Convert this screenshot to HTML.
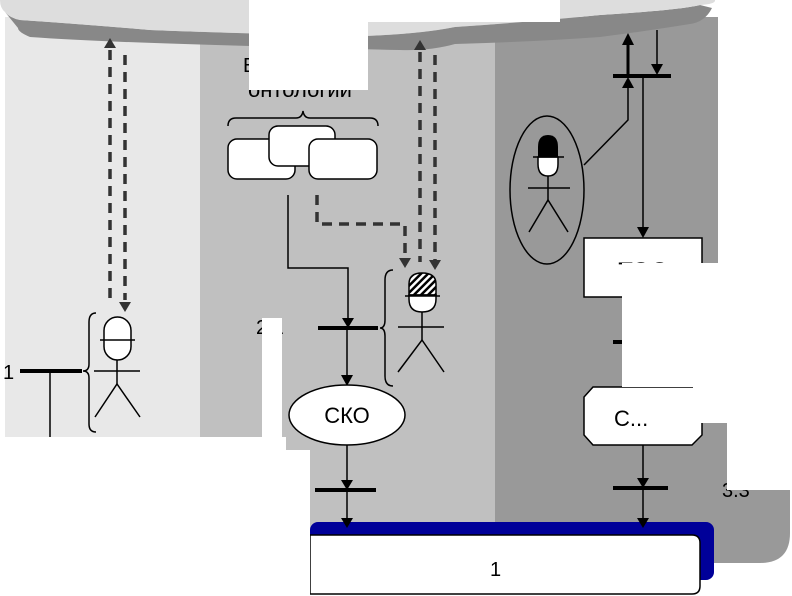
<!DOCTYPE html>
<html><head><meta charset="utf-8"><style>html,body{margin:0;padding:0;background:#fff}svg{display:block}</style></head>
<body>
<svg width="792" height="596" viewBox="0 0 792 596" xmlns="http://www.w3.org/2000/svg" font-family="Liberation Sans, sans-serif">
<defs>
<pattern id="h" width="5" height="5" patternUnits="userSpaceOnUse" patternTransform="rotate(45)"><rect width="5" height="5" fill="#fff"/><rect width="2.5" height="5" fill="#000"/></pattern>
</defs>
<!-- panels -->
<rect x="5" y="17" width="195" height="420" fill="#e8e8e8"/>
<rect x="200" y="17" width="295" height="420" fill="#c0c0c0"/>
<rect x="280" y="420" width="215" height="110" fill="#c0c0c0"/>
<path d="M495,17 H790 V533 Q790,563 760,563 H495 Z" fill="#999"/>
<rect x="718" y="0" width="74" height="263" fill="#fff"/>
<!-- cloud -->
<path d="M5,12 Q10,18 20,20 Q80,24 150,30 Q250,34 365,36 Q420,34 455,27 Q530,22 600,15 Q680,10 700,5 L712,8 Q705,22 690,24 Q640,32 600,37 Q530,42 455,44 Q430,51 400,50 Q300,48 250,46 Q100,42 30,37 Q18,32 18,28 Z" fill="#888"/>
<path d="M0,0 H715 Q716,4 700,5 Q680,10 600,15 Q530,22 455,27 Q420,34 365,36 Q250,34 150,30 Q80,24 20,20 Q10,18 5,12 Q0,8 0,0 Z" fill="#ddd"/>
<text x="243" y="72" font-size="20">В</text>
<text x="300" y="97" font-size="22" text-anchor="middle">онтологии</text>
<rect x="250" y="0" width="310" height="22" fill="#fff"/>
<rect x="249" y="0" width="119" height="90" fill="#fff"/>
<!-- blue bar -->
<rect x="310" y="522" width="404" height="58" rx="8" fill="#000099"/>
<path d="M310,535 H692 Q700,535 700,543 V586 Q700,594 692,594 H310 Z" fill="#fff" stroke="#000" stroke-width="1.5"/>
<text x="490" y="576" font-size="20">1</text>
<rect x="286" y="450" width="24" height="146" fill="#fff"/>
<rect x="0" y="437" width="286" height="159" fill="#fff"/>
<!-- dashed -->
<g stroke="#333" stroke-width="3.5" stroke-dasharray="10,7" fill="none">
<line x1="110" y1="50" x2="110" y2="300"/><line x1="125" y1="55" x2="125" y2="300"/>
<line x1="420" y1="52" x2="420" y2="262"/><line x1="435" y1="55" x2="435" y2="262"/>
<path d="M317,195 V224 H405 V262"/>
</g>
<g fill="#333"><path d="M104,48 L110,38 L116,48 Z"/><path d="M119,302 L125,312 L131,302 Z"/>
<path d="M414,50 L420,40 L426,50 Z"/><path d="M429,260 L435,270 L441,260 Z"/><path d="M399,258 L405,268 L411,258 Z"/></g>
<!-- left -->
<text x="3" y="379" font-size="20">1</text>
<line x1="20" y1="371" x2="82" y2="371" stroke="#000" stroke-width="4"/>
<line x1="50" y1="371" x2="50" y2="437" stroke="#000" stroke-width="1.5"/>
<path d="M96,313 Q89,313 89,322 V364 Q89,371 83,371 Q89,371 89,378 V424 Q89,432 96,432" stroke="#000" stroke-width="1.5" fill="none"/>
<g stroke="#000" stroke-width="1.5" fill="#fff">
<rect x="104" y="317" width="27" height="43" rx="13.5"/>
<line x1="100" y1="340" x2="135" y2="340"/>
<line x1="117" y1="360" x2="117" y2="384"/><line x1="94" y1="371" x2="140" y2="371"/>
<polyline points="95,417 117,384 140,417" fill="none"/>
</g>
<!-- ontology boxes -->
<path d="M228,126 Q228,118 236,118 H296 Q302,118 303,111 Q304,118 310,118 H370 Q378,118 378,126" stroke="#000" stroke-width="1.5" fill="none"/>
<g stroke="#000" stroke-width="1.5" fill="#fff">
<rect x="228" y="139" width="67" height="40" rx="9"/>
<rect x="269" y="126" width="66" height="40" rx="9"/>
<rect x="309" y="139" width="68" height="40" rx="9"/>
</g>
<path d="M288,195 V268 H348 V320" stroke="#000" stroke-width="1.5" fill="none"/>
<path d="M342,318 L348,328 L354,318 Z"/>
<line x1="318" y1="328" x2="378" y2="328" stroke="#000" stroke-width="4"/>
<text x="256" y="334" font-size="20">2.1</text>
<rect x="262" y="318" width="20" height="132" fill="#fff"/>
<line x1="347" y1="328" x2="347" y2="378" stroke="#000" stroke-width="1.5"/>
<path d="M341,375 L347,386 L353,375 Z"/>
<ellipse cx="347" cy="415" rx="58" ry="30" fill="#fff" stroke="#000" stroke-width="1.5"/>
<text x="347" y="423" font-size="22" text-anchor="middle">СКО</text>
<line x1="347" y1="445" x2="347" y2="525" stroke="#000" stroke-width="1.5"/>
<path d="M341,480 L347,490 L353,480 Z"/><path d="M341,518 L347,528 L353,518 Z"/>
<line x1="315" y1="490" x2="376" y2="490" stroke="#000" stroke-width="4"/>
<path d="M393,270 Q385,270 385,280 V320 Q385,328 380,328 Q385,328 385,336 V376 Q385,386 393,386" stroke="#000" stroke-width="1.5" fill="none"/>
<g stroke="#000" stroke-width="1.5">
<path d="M409,295 V284 Q409,273 422,273 Q436,273 436,284 V295 Z" fill="url(#h)"/>
<path d="M409,295 V299 Q409,312 422,312 Q436,312 436,299 V295 Z" fill="#fff"/>
<line x1="405" y1="296" x2="440" y2="296"/>
<line x1="422" y1="312" x2="422" y2="340"/><line x1="398" y1="327" x2="444" y2="327"/>
<polyline points="398,372 422,340 444,372" fill="none"/>
</g>
<!-- right -->
<g stroke="#000" stroke-width="1.5" fill="none">
<line x1="657" y1="30" x2="657" y2="68"/>
<polyline points="584,165 628,120 628,86"/>
<line x1="643" y1="75" x2="643" y2="232"/>
<ellipse cx="547" cy="190" rx="37" ry="74"/>
<line x1="548" y1="176" x2="548" y2="200"/><line x1="528" y1="188" x2="570" y2="188"/>
<polyline points="529,232 548,200 568,232"/>
</g>
<line x1="628" y1="40" x2="628" y2="75" stroke="#000" stroke-width="3"/>
<path d="M622,45 L628,33 L634,45 Z"/><path d="M651,64 L657,75 L663,64 Z"/><path d="M622,88 L628,77 L634,88 Z"/>
<line x1="613" y1="76" x2="671" y2="76" stroke="#000" stroke-width="4"/>
<path d="M538,157 V147 Q538,135 548,135 Q558,135 558,147 V157 Z" fill="#000"/>
<path d="M538,157 V164 Q538,176 548,176 Q558,176 558,164 V157 Z" fill="#fff" stroke="#000" stroke-width="1.5"/>
<line x1="533" y1="157" x2="564" y2="157" stroke="#000" stroke-width="1.5"/>
<path d="M637,227 L643,238 L649,227 Z"/>
<rect x="584" y="238" width="118" height="59" fill="#fff" stroke="#000" stroke-width="1.5"/>
<text x="643" y="279" font-size="24" text-anchor="middle">ТОС</text>
<line x1="613" y1="342" x2="625" y2="342" stroke="#000" stroke-width="4"/>
<path d="M593,387 H702 V435 L692,445 H593 L584,435 V397 Z" fill="#fff" stroke="#000" stroke-width="1.5"/>
<text x="614" y="426" font-size="22">С...</text>
<text x="722" y="497" font-size="20">3.3</text>
<path d="M622,263 H792 V490 H727 V423 H693 V387 H622 Z" fill="#fff"/>
<line x1="643" y1="445" x2="643" y2="525" stroke="#000" stroke-width="1.5"/>
<path d="M637,478 L643,488 L649,478 Z"/><path d="M637,518 L643,528 L649,518 Z"/>
<line x1="613" y1="488" x2="668" y2="488" stroke="#000" stroke-width="4"/>
</svg>
</body></html>
